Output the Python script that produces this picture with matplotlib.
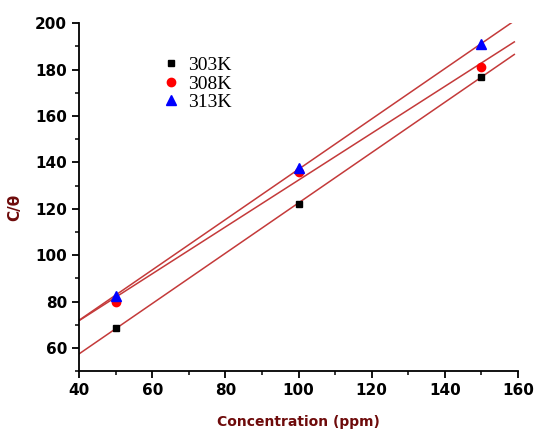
import numpy as np
import matplotlib
matplotlib.use('Agg')
import matplotlib.pyplot as plt
from matplotlib.ticker import MultipleLocator

# data
conc = [50, 100, 150]
y_303 = [68.5, 122.0, 177.0]
y_308 = [80.0, 136.0, 181.0]
y_313 = [82.5, 137.5, 191.0]
labels = ['303K', '308K', '313K']

fig = plt.figure(figsize=(5.34, 4.29), dpi=100)
ax = fig.add_axes([0.148, 0.135, 0.822, 0.811])

# linear fits drawn across the x range
xfit = np.linspace(40, 159, 50)
for ys in (y_303, y_308, y_313):
    k, b = np.polyfit(conc, ys, 1)
    ax.plot(xfit, k*xfit + b, color='#c43a3a', lw=1.1, zorder=1)

ax.plot(conc, y_303, 's', color='black', ms=5, ls='none', label=labels[0], zorder=3)
ax.plot(conc, y_308, 'o', color='red', ms=6, ls='none', label=labels[1], zorder=3)
ax.plot(conc, y_313, '^', color='blue', ms=7, ls='none', label=labels[2], zorder=3)

ax.set_xlim(40, 160)
ax.set_ylim(50, 200)
ax.xaxis.set_major_locator(MultipleLocator(20))
ax.xaxis.set_minor_locator(MultipleLocator(10))
ax.yaxis.set_major_locator(MultipleLocator(20))
ax.yaxis.set_minor_locator(MultipleLocator(10))
ax.spines['top'].set_visible(False)
ax.spines['right'].set_visible(False)
for s in ('left', 'bottom'):
    ax.spines[s].set_linewidth(1.3)
ax.tick_params(which='major', direction='out', length=5, width=1.3, labelsize=11)
ax.tick_params(which='minor', direction='out', length=3, width=1.1)
for lab in ax.get_xticklabels() + ax.get_yticklabels():
    lab.set_fontweight('bold')

ax.set_xlabel('Concentration (ppm)', fontsize=10, fontweight='bold', color='#6e0b0b', labelpad=12)
ax.set_ylabel('C/\u03b8', fontsize=11, fontweight='bold', color='#6e0b0b', labelpad=9)
ax.yaxis.set_label_coords(-0.13, 0.47)

ax.legend(loc='upper left', bbox_to_anchor=(0.148, 0.955), frameon=False,
          prop={'family': 'Liberation Serif', 'size': 14},
          handlelength=1.0, handletextpad=0.35, labelspacing=0.05)

fig.savefig('out.png', dpi=100)
